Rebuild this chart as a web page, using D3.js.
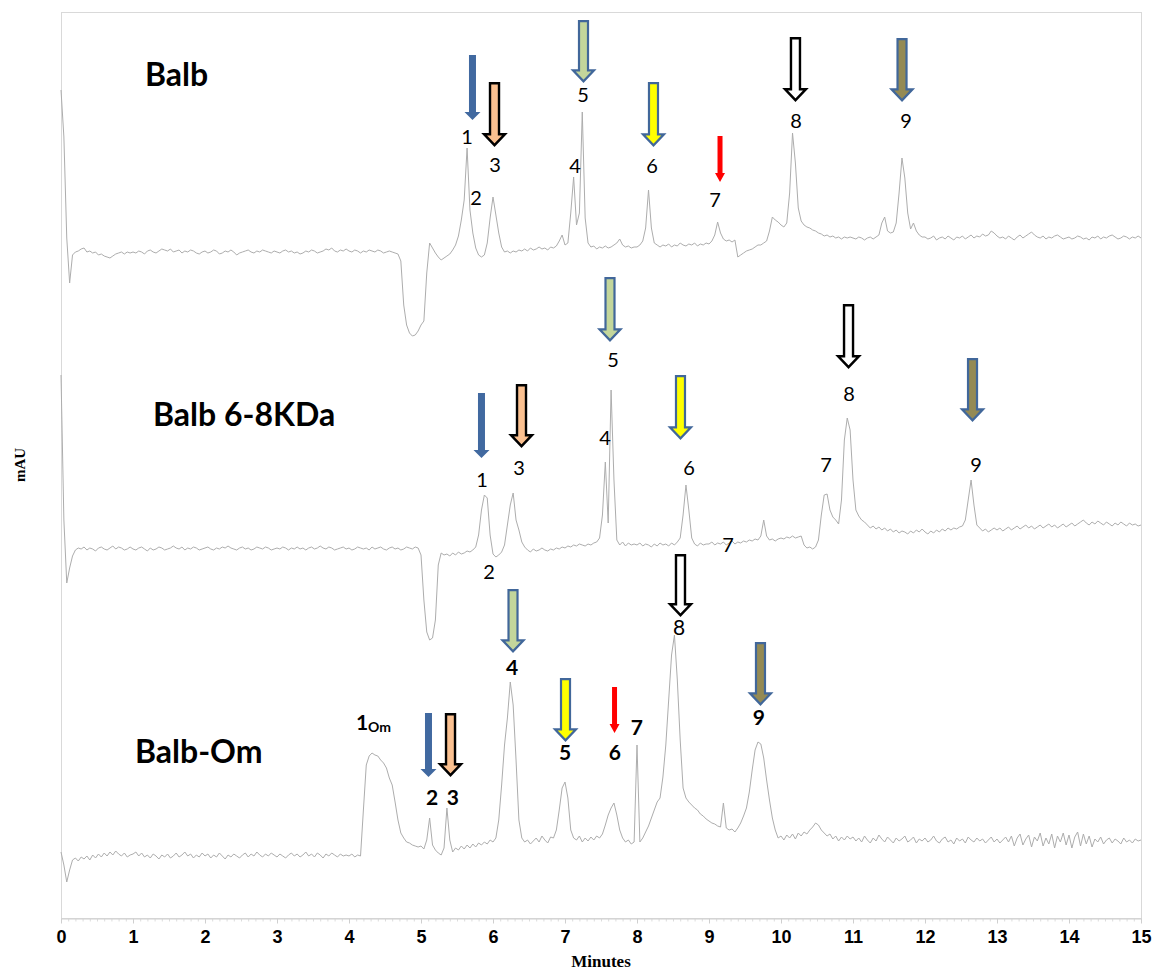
<!DOCTYPE html>
<html lang="en">
<head>
<meta charset="utf-8">
<title>HPLC chromatograms: Balb, Balb 6-8KDa, Balb-Om</title>
<script src="https://d3js.org/d3.v7.min.js"></script>
<style>
  body { margin: 0; background: #fff; }
</style>
</head>
<body>
<script>

// sampling interval of the detector traces (minutes)
var step = 0.04;

// baseline offset of each stacked trace (mAU)
var offsets = [665, 368, 58];

// signals, one row per minute (25 samples)
var balb = [
  163, 116, 15, -30, -2, 1, 2, 4, 5, 1, 2, 0, 1, -2, -1, -3, -4, -5, -3, -1, 0, 1, -1, 1, 0,
  1, 0, 2, 1, -1, 2, 3, 1, 0, 2, 4, 3, 2, 4, 1, 2, 3, 0, 2, 1, 3, 2, 0, -1, 1,
  2, 0, 1, 3, 2, -1, 0, 2, 1, 3, 1, -2, 0, 1, 2, 3, 1, 0, 2, 1, 3, 2, 1, 0, 2,
  1, 0, 2, 3, 1, 2, 0, 1, -1, 0, 2, 1, 3, 2, 0, 1, 2, 4, 3, 5, 2, 1, 3, 2, 4,
  2, 1, 3, 2, 0, 2, 1, 3, 2, 1, 3, 2, 0, 1, 2, 1, 0, -1, -8, -52, -72, -80, -83, -82, -78,
  -72, -68, -20, 10, 5, 0, -4, -7, -5, -3, -1, 3, 8, 17, 33, 53, 105, 43, 20, 5, -2, -4, -2, 10, 35,
  56, 38, 20, 6, 1, 2, 0, 2, 1, 3, 2, 4, 2, 5, 3, 4, 6, 4, 5, 3, 6, 5, 7, 12, 18,
  8, 10, 40, 76, 28, 40, 141, 35, 10, 6, 7, 4, 6, 5, 7, 5, 6, 8, 10, 14, 8, 6, 7, 5, 6,
  6, 8, 12, 25, 63, 25, 10, 8, 6, 8, 7, 9, 6, 8, 7, 10, 8, 7, 9, 8, 10, 7, 9, 8, 10,
  9, 12, 18, 31, 20, 14, 12, 13, 11, 13, -4, -2, 0, 2, 3, 4, 6, 8, 8, 10, 12, 22, 36, 33, 31,
  28, 26, 30, 60, 120, 90, 45, 32, 28, 26, 25, 23, 22, 20, 19, 17, 18, 16, 17, 15, 16, 14, 16, 15, 16,
  15, 14, 16, 15, 13, 15, 16, 14, 16, 18, 30, 36, 22, 20, 21, 30, 60, 95, 75, 40, 24, 30, 22, 18, 16,
  16, 14, 15, 17, 13, 15, 16, 14, 17, 15, 13, 16, 15, 17, 14, 16, 18, 15, 17, 16, 19, 17, 18, 22, 20,
  17, 15, 16, 14, 17, 15, 13, 16, 18, 15, 17, 19, 21, 18, 16, 15, 17, 14, 16, 15, 17, 18, 16, 14, 15,
  16, 14, 15, 17, 16, 14, 15, 13, 16, 15, 17, 14, 16, 15, 17, 18, 16, 14, 15, 17, 16, 14, 16, 15, 17, 15
];

var balb68 = [
  175, 30, -33, -18, -6, 0, 2, 1, 3, 0, 2, 1, -1, 2, 3, 1, 0, 2, 4, 1, 3, 2, 0, 1, 3,
  1, 0, 2, 3, 1, -1, 2, 0, 1, 3, 2, 0, 1, 2, 4, 2, 1, 3, 0, 2, 1, 3, 2, 0, 1,
  2, 3, 1, 0, 2, 1, 3, 2, 4, 2, 1, 0, 2, 3, 1, 2, 0, 1, 3, 2, 1, 3, 2, 0, 1,
  2, 1, 3, 2, 0, 2, 1, 3, 1, 2, 0, 2, 3, 1, 2, 4, 2, 1, 3, 2, 0, 1, 2, 3, 1,
  2, 0, 1, 3, 2, 1, 2, 0, 3, 1, 2, 3, 1, 0, 2, 3, 1, 2, 0, 1, 3, 2, 1, 3, 2,
  -5, -50, -82, -90, -88, -70, -15, -3, -5, -4, -6, -3, -5, -2, -4, -3, -1, -2, 0, 3, 15, 40, 55, 52, 15,
  -4, -7, -5, -2, 5, 25, 45, 57, 30, 20, 8, 3, 0, -2, 1, -1, 0, 2, 0, -1, 1, 0, 2, 1, 3,
  2, 4, 3, 5, 4, 6, 5, 4, 6, 5, 7, 8, 12, 35, 88, 27, 160, 70, 10, 5, 8, 4, 7, 5, 6,
  5, 7, 4, 6, 5, 3, 6, 4, 7, 5, 6, 4, 7, 5, 8, 12, 35, 65, 40, 12, 6, 4, 7, 5, 6,
  6, 8, 5, 7, 6, 8, 5, 7, 9, 6, 8, 7, 9, 8, 10, 9, 11, 10, 14, 30, 14, 10, 11, 9, 11,
  12, 11, 13, 12, 14, 12, 13, 14, 5, 2, 3, 1, 3, 10, 35, 55, 56, 40, 33, 30, 26, 50, 110, 132, 120,
  70, 40, 34, 30, 28, 25, 22, 24, 21, 23, 20, 22, 19, 21, 18, 20, 17, 19, 18, 16, 19, 17, 20, 18, 21,
  18, 16, 19, 17, 20, 18, 21, 19, 22, 20, 22, 21, 23, 24, 30, 50, 70, 45, 25, 22, 19, 21, 18, 20, 22,
  20, 22, 19, 21, 23, 20, 22, 24, 21, 23, 25, 22, 24, 21, 23, 25, 22, 24, 26, 23, 25, 22, 24, 26, 23,
  25, 27, 24, 26, 28, 30, 27, 25, 28, 26, 29, 27, 25, 28, 26, 24, 27, 25, 28, 26, 24, 27, 25, 26, 24, 25
];

var balbOm = [
  8, -5, -22, -10, 0, 2, -1, 3, 1, 4, 0, 5, 2, 6, 3, 7, 4, 8, 5, 9, 6, 4, 7, 3, 5,
  6, 8, 4, 7, 3, 5, 2, 6, 4, 1, 5, 3, 6, 2, 4, 7, 3, 5, 8, 4, 6, 2, 5, 3, 7,
  4, 6, 2, 5, 3, 7, 4, 1, 5, 3, 6, 4, 2, 5, 7, 3, 6, 4, 8, 5, 3, 6, 4, 7, 5,
  3, 6, 4, 2, 5, 7, 4, 6, 3, 5, 8, 4, 6, 3, 7, 5, 2, 6, 4, 7, 5, 3, 6, 4, 5,
  4, 6, 3, 5, 4, 50, 95, 104, 107, 105, 104, 100, 97, 92, 82, 75, 58, 40, 27, 22, 18, 17, 15, 14, 13,
  14, 11, 20, 42, 15, 10, 7, 5, 12, 52, 20, 8, 12, 10, 14, 11, 15, 12, 16, 13, 17, 15, 18, 16, 20,
  18, 22, 40, 75, 115, 142, 178, 155, 100, 40, 22, 18, 20, 16, 19, 22, 18, 24, 20, 17, 23, 22, 30, 50, 72,
  78, 62, 30, 22, 20, 24, 18, 22, 19, 23, 20, 24, 22, 26, 35, 45, 52, 57, 45, 30, 22, 18, 20, 16, 18,
  115, 18, 22, 28, 34, 42, 50, 58, 62, 83, 115, 160, 205, 225, 180, 120, 72, 62, 58, 55, 52, 50, 46, 44, 41,
  39, 37, 36, 34, 33, 57, 32, 30, 31, 28, 32, 37, 44, 52, 68, 90, 110, 118, 116, 102, 80, 60, 42, 30, 22,
  24, 20, 25, 22, 26, 21, 27, 24, 28, 26, 30, 33, 37, 35, 30, 27, 24, 26, 21, 24, 19, 23, 20, 24, 21,
  23, 19, 22, 18, 24, 20, 17, 22, 19, 25, 21, 18, 23, 20, 17, 22, 19, 21, 24, 18, 20, 23, 17, 21, 19,
  22, 18, 20, 24, 19, 17, 21, 23, 18, 20, 16, 22, 19, 21, 17, 23, 20, 18, 22, 19, 21, 17, 20, 23, 18,
  21, 17, 20, 23, 18, 24, 14, 22, 26, 15, 21, 25, 13, 23, 19, 27, 14, 22, 16, 26, 12, 24, 18, 27, 15,
  25, 12, 23, 28, 14, 26, 16, 24, 13, 21, 18, 23, 16, 20, 22, 17, 21, 19, 16, 22, 18, 20, 17, 21, 19, 20
];

var traceNames = ["Balb", "Balb 6-8KDa", "Balb-Om"];
// where each name sits: [minutes, mAU]
var titleAt = [[1.167, 832], [1.278, 492], [1.028, 155]];

var xTicks = [0, 1, 2, 3, 4, 5, 6, 7, 8, 9, 10, 11, 12, 13, 14, 15];

// peak numbers: [minutes, mAU, text]
var peaks1 = [[5.639, 781, "1"], [5.764, 720, "2"], [6.028, 753, "3"], [7.139, 752, "4"], [7.25, 823, "5"],
              [8.208, 752, "6"], [9.083, 718, "7"], [10.208, 797, "8"], [11.736, 797, "9"]];
var peaks2 = [[5.847, 438, "1"], [5.944, 346, "2"], [6.361, 450, "3"], [7.556, 480, "4"], [7.667, 558, "5"],
              [8.722, 450, "6"], [9.264, 373, "7"], [10.625, 453, "7"], [10.944, 524, "8"], [12.708, 453, "9"]];
var peaks3 = [[5.153, 121, "2"], [5.444, 121, "3"], [6.264, 251, "4"], [7.0, 166, "5"], [7.694, 166, "6"],
              [7.999, 191, "7"], [8.583, 291, "8", "normal"], [9.694, 201, "9"]];
var omLabel = [4.181, 196, "1", "Om"];

// arrows: [kind, minutes, top mAU, tip mAU]
var arrows1 = [["blue", 5.715, 863, 798], ["orange", 6.021, 836, 771], ["green", 7.257, 898, 835],
               ["yellow", 8.229, 836, 771], ["red", 9.153, 782, 736], ["white", 10.201, 881, 816],
               ["olive", 11.681, 880, 816]];
var arrows2 = [["blue", 5.84, 525, 460], ["orange", 6.396, 534, 470], ["green", 7.625, 641, 576],
               ["yellow", 8.604, 543, 478], ["white", 10.938, 614, 549], ["olive", 12.66, 560, 496]];
var arrows3 = [["blue", 5.104, 205, 141], ["orange", 5.41, 205, 141], ["green", 6.278, 329, 265],
               ["yellow", 7.007, 240, 176], ["red", 7.688, 231, 185], ["white", 8.604, 364, 301],
               ["olive", 9.715, 276, 212]];

var arrowStyle = {
  blue:   { fill: "#4169a0", stroke: "none",    sw: 7, hw: 16, hl: 8,  lw: 0 },
  red:    { fill: "#ff0000", stroke: "none",    sw: 5, hw: 10, hl: 9,  lw: 0 },
  orange: { fill: "#fac090", stroke: "#000000", sw: 9, hw: 21, hl: 11, lw: 2.4 },
  white:  { fill: "#ffffff", stroke: "#000000", sw: 9, hw: 21, hl: 11, lw: 2.4 },
  green:  { fill: "#c3d69b", stroke: "#41679a", sw: 9, hw: 21, hl: 11, lw: 2.2 },
  yellow: { fill: "#ffff00", stroke: "#41679a", sw: 9, hw: 21, hl: 11, lw: 2.2 },
  olive:  { fill: "#948a54", stroke: "#41679a", sw: 9, hw: 21, hl: 11, lw: 2.2 }
};

var w = 1156, h = 972;
var plotLeft = 61, plotRight = 1141, plotTop = 12, plotBottom = 918;
var labelFont = "Lato, 'Open Sans', sans-serif";

var svg = d3.select("body").append("svg")
    .attr("width", w)
    .attr("height", h);

var x = d3.scaleLinear().domain([0, 15]).range([plotLeft, plotRight]);
var y = d3.scaleLinear().domain([0, 906]).range([plotBottom, plotTop]);

// frame
svg.append("rect")
    .attr("x", plotLeft + 0.5).attr("y", plotTop + 0.5)
    .attr("width", plotRight - plotLeft).attr("height", plotBottom - plotTop)
    .attr("fill", "none").attr("stroke", "#d9d9d9");

// minor ticks
svg.append("g")
    .attr("transform", "translate(0," + (plotBottom + 0.5) + ")")
    .call(d3.axisBottom(x).tickValues(d3.range(0, 15.001, 0.1)).tickSize(3).tickSizeOuter(0).tickFormat(""))
    .call(function (g) { g.select(".domain").remove(); })
    .selectAll("line").attr("stroke", "#dcdcdc");

// main axis
var xAxis = svg.append("g")
    .attr("transform", "translate(0," + (plotBottom + 0.5) + ")")
    .call(d3.axisBottom(x).tickValues(xTicks).tickSize(5).tickSizeOuter(0).tickPadding(7).tickFormat(d3.format("d")));
xAxis.select(".domain").attr("stroke", "#cfcfcf");
xAxis.selectAll(".tick line").attr("stroke", "#cfcfcf");
xAxis.selectAll(".tick text")
    .attr("font-family", "'Liberation Sans', Arial, sans-serif")
    .attr("font-weight", "bold")
    .attr("font-size", "18px")
    .attr("fill", "#000");

svg.append("text")
    .attr("x", (plotLeft + plotRight) / 2)
    .attr("y", 967)
    .attr("text-anchor", "middle")
    .attr("font-family", "'Liberation Serif', 'Times New Roman', serif")
    .attr("font-weight", "bold")
    .attr("font-size", "17px")
    .text("Minutes");

svg.append("text")
    .attr("transform", "translate(25," + ((plotTop + plotBottom) / 2) + ") rotate(-90)")
    .attr("text-anchor", "middle")
    .attr("font-family", "'Liberation Serif', 'Times New Roman', serif")
    .attr("font-weight", "bold")
    .attr("font-size", "15px")
    .text("mAU");

// traces
var traces = [balb, balb68, balbOm];
traces.forEach(function (vals, k) {
    var line = d3.line()
        .x(function (d, i) { return x(i * step); })
        .y(function (d) { return y(offsets[k] + d); });
    svg.append("path")
        .datum(vals)
        .attr("d", line)
        .attr("fill", "none")
        .attr("stroke", "#adadad")
        .attr("stroke-width", 1)
        .attr("stroke-linejoin", "round");
});

// trace names
svg.selectAll(".title")
    .data(traceNames)
    .enter()
    .append("text")
    .attr("class", "title")
    .attr("x", function (d, i) { return x(titleAt[i][0]); })
    .attr("y", function (d, i) { return y(titleAt[i][1]); })
    .attr("font-family", "Lato, sans-serif")
    .attr("font-weight", "bold")
    .attr("font-size", "32px")
    .text(function (d) { return d; });

// arrows
function arrowPath(cx, yTop, yTip, s) {
    var hs = yTip - s.hl;
    return "M" + [cx - s.sw / 2, yTop] + "L" + [cx + s.sw / 2, yTop] + "L" + [cx + s.sw / 2, hs] +
        "L" + [cx + s.hw / 2, hs] + "L" + [cx, yTip] + "L" + [cx - s.hw / 2, hs] +
        "L" + [cx - s.sw / 2, hs] + "Z";
}

var allArrows = arrows1.concat(arrows2, arrows3);
svg.selectAll(".arrow")
    .data(allArrows)
    .enter()
    .append("path")
    .attr("class", "arrow")
    .attr("d", function (d) {
        var s = arrowStyle[d[0]];
        var pad = s.lw / 2;
        return arrowPath(x(d[1]), y(d[2]) + pad, y(d[3]) - pad * 1.5, s);
    })
    .attr("fill", function (d) { return arrowStyle[d[0]].fill; })
    .attr("stroke", function (d) { return arrowStyle[d[0]].stroke; })
    .attr("stroke-width", function (d) { return arrowStyle[d[0]].lw; });

// peak numbers
function drawPeaks(list, weight, size) {
    svg.append("g").selectAll("text")
        .data(list)
        .enter()
        .append("text")
        .attr("x", function (d) { return x(d[0]); })
        .attr("y", function (d) { return y(d[1]); })
        .attr("dy", "0.36em")
        .attr("text-anchor", "middle")
        .attr("font-family", labelFont)
        .attr("font-weight", function (d) { return d[3] || weight; })
        .attr("font-size", size)
        .text(function (d) { return d[2]; });
}
drawPeaks(peaks1, "normal", "20px");
drawPeaks(peaks2, "normal", "20px");
drawPeaks(peaks3, "bold", "21px");

svg.append("text")
    .attr("x", x(omLabel[0]))
    .attr("y", y(omLabel[1]))
    .attr("dy", "0.36em")
    .attr("text-anchor", "middle")
    .attr("font-family", labelFont)
    .attr("font-weight", "bold")
    .attr("font-size", "21px")
    .text(omLabel[2]);
svg.append("text")
    .attr("x", x(omLabel[0]) + 6)
    .attr("y", y(omLabel[1]) + 5)
    .attr("dy", "0.35em")
    .attr("font-family", labelFont)
    .attr("font-weight", "bold")
    .attr("font-size", "14px")
    .text(omLabel[3]);

</script>
</body>
</html>
